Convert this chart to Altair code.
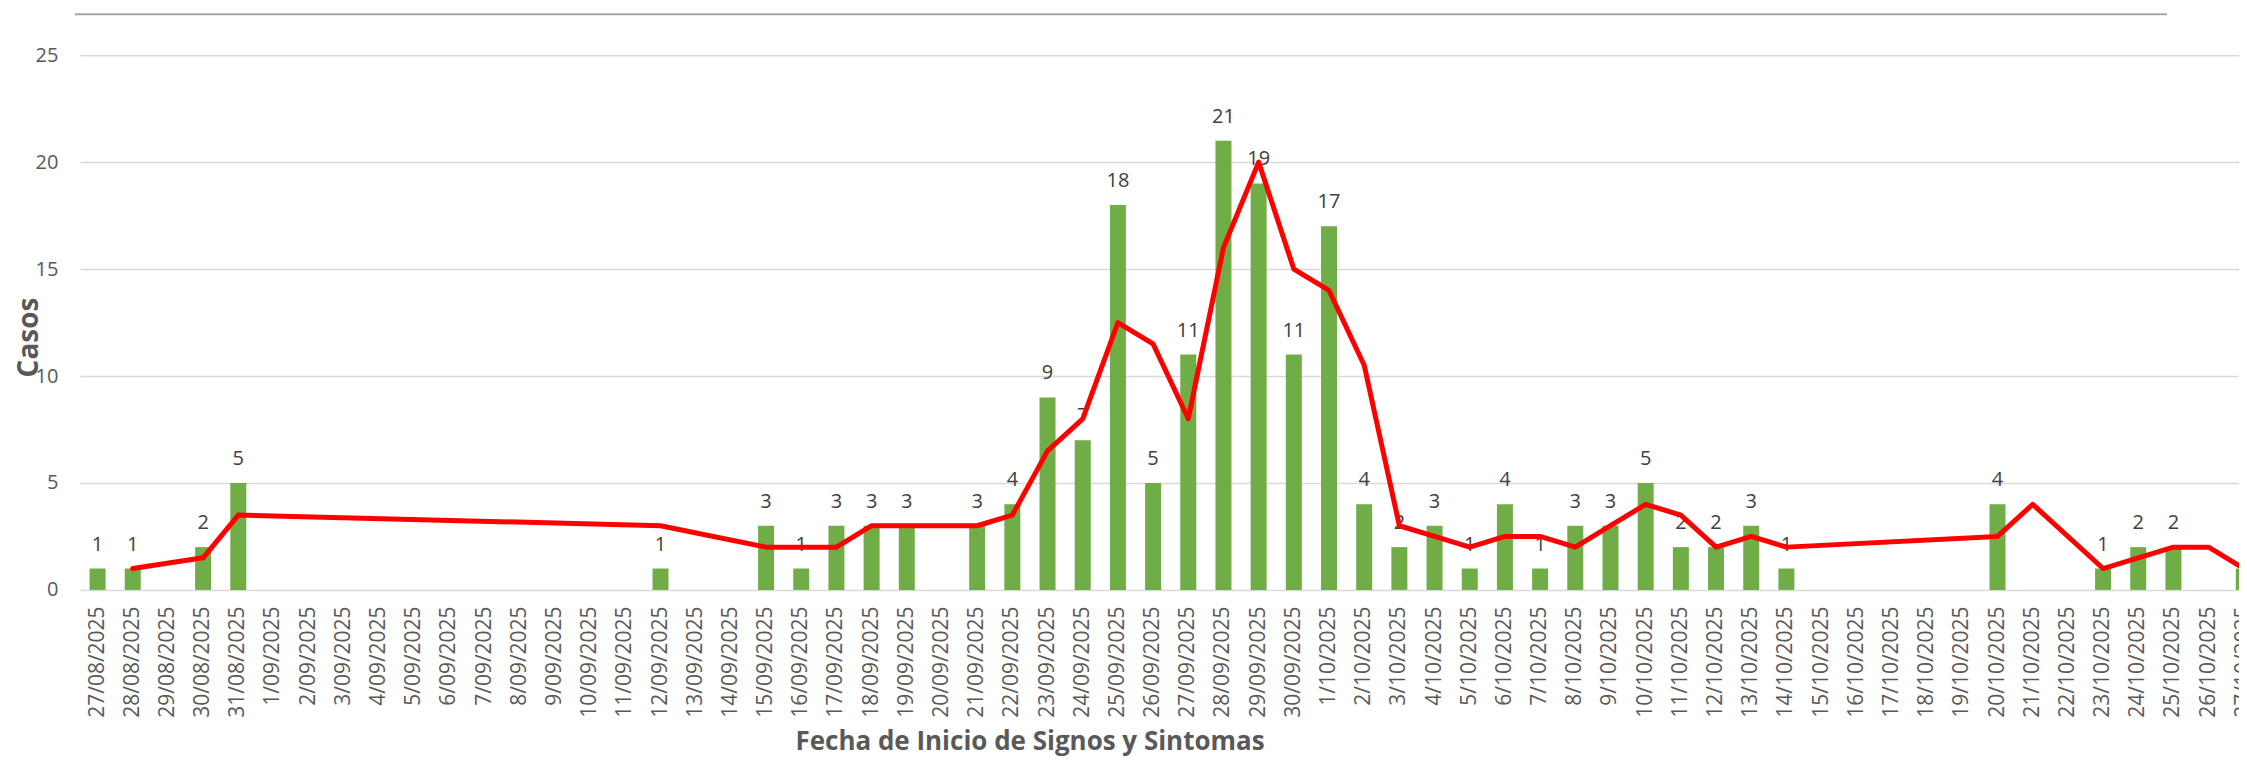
import altair as alt
import pandas as pd

# Category axis (dates as shown on the axis)
dates = ([f"{d}/08/2025" for d in range(27, 32)]
         + [f"{d}/09/2025" for d in range(1, 31)]
         + [f"{d}/10/2025" for d in range(1, 28)])

# Bars: cases per date of symptom onset
bar_dates = ["27/08/2025", "28/08/2025", "30/08/2025", "31/08/2025", "12/09/2025",
             "15/09/2025", "16/09/2025", "17/09/2025", "18/09/2025", "19/09/2025",
             "21/09/2025", "22/09/2025", "23/09/2025", "24/09/2025", "25/09/2025",
             "26/09/2025", "27/09/2025", "28/09/2025", "29/09/2025", "30/09/2025",
             "1/10/2025", "2/10/2025", "3/10/2025", "4/10/2025", "5/10/2025",
             "6/10/2025", "7/10/2025", "8/10/2025", "9/10/2025", "10/10/2025",
             "11/10/2025", "12/10/2025", "13/10/2025", "14/10/2025", "20/10/2025",
             "23/10/2025", "24/10/2025", "25/10/2025", "27/10/2025"]
bar_values = [1, 1, 2, 5, 1,
              3, 1, 3, 3, 3,
              3, 4, 9, 7, 18,
              5, 11, 21, 19, 11,
              17, 4, 2, 3, 1,
              4, 1, 3, 3, 5,
              2, 2, 3, 1, 4,
              1, 2, 2, 1]

# Red line (moving average as drawn)
ma_dates = ["28/08/2025", "30/08/2025", "31/08/2025", "12/09/2025", "15/09/2025",
            "16/09/2025", "17/09/2025", "18/09/2025", "19/09/2025", "21/09/2025",
            "22/09/2025", "23/09/2025", "24/09/2025", "25/09/2025", "26/09/2025",
            "27/09/2025", "28/09/2025", "29/09/2025", "30/09/2025", "1/10/2025",
            "2/10/2025", "3/10/2025", "4/10/2025", "5/10/2025", "6/10/2025",
            "7/10/2025", "8/10/2025", "9/10/2025", "10/10/2025", "11/10/2025",
            "12/10/2025", "13/10/2025", "14/10/2025", "20/10/2025", "21/10/2025",
            "23/10/2025", "24/10/2025", "25/10/2025", "26/10/2025", "27/10/2025"]
ma_values = [1, 1.5, 3.5, 3, 2,
             2, 2, 3, 3, 3,
             3.5, 6.5, 8, 12.5, 11.5,
             8, 16, 20, 15, 14,
             10.5, 3, 2.5, 2, 2.5,
             2.5, 2, 3, 4, 3.5,
             2, 2.5, 2, 2.5, 4,
             1, 1.5, 2, 2, 1]

y_ticks = [0, 5, 10, 15, 20, 25]

bars_df = pd.DataFrame({"fecha": bar_dates, "valor": bar_values})
ma_df = pd.DataFrame({"fecha": ma_dates, "valor": ma_values})

FONT = "Open Sans"
GRAY = "#595959"

x_enc = alt.X(
    "fecha:N",
    sort=dates,
    scale=alt.Scale(domain=dates, range=[0, 2182.4], paddingInner=0, paddingOuter=0),
    axis=alt.Axis(
        title="Fecha de Inicio de Signos y Sintomas",
        labelAngle=-90, labelFont=FONT, labelFontSize=21, labelColor=GRAY,
        labelPadding=16, ticks=False, domain=False, grid=False, labelOverlap=False,
        titleFont=FONT, titleFontSize=26, titleFontWeight="bold", titleColor=GRAY,
        titleX=950, titleY=160, titleBaseline="alphabetic", titleAlign="center",
    ),
)
y_enc = alt.Y(
    "valor:Q",
    scale=alt.Scale(domain=[0, 25], nice=False),
    axis=alt.Axis(
        values=y_ticks, title="Casos",
        labelFont=FONT, labelFontSize=20, labelColor=GRAY, labelPadding=22,
        ticks=False, domain=False, grid=True, gridColor="#D9D9D9", gridWidth=1.5,
        titleFont=FONT, titleFontSize=28, titleFontWeight="bold", titleColor=GRAY,
        titleX=-50, titleY=282, titleBaseline="middle", titleAngle=-90, titleAlign="center",
    ),
)

border = alt.Chart(pd.DataFrame({"k": [0]})).mark_rule(
    color="#A6A6A6", strokeWidth=2
).encode(x=alt.value(-5), x2=alt.value(2088), y=alt.value(-41))

bars = alt.Chart(bars_df).mark_bar(color="#70AD47", size=16).encode(x=x_enc, y=y_enc)

labels = alt.Chart(bars_df).mark_text(
    dy=-18, baseline="alphabetic", font=FONT, fontSize=20, color="#404040"
).encode(x=x_enc, y=y_enc, text="valor:Q")

line = alt.Chart(ma_df).mark_line(
    color="#FF0000", strokeWidth=5, strokeJoin="round", strokeCap="round"
).encode(x=x_enc, y=y_enc)

chart = alt.layer(border, bars, labels, line).properties(
    width=2160, height=535,
    padding={"left": 72, "top": 47, "right": 0, "bottom": 170},
    autosize=alt.AutoSizeParams(type="none"),
).configure_view(stroke=None)

chart.save("out.html", embed_options={"renderer": "svg", "actions": False})
